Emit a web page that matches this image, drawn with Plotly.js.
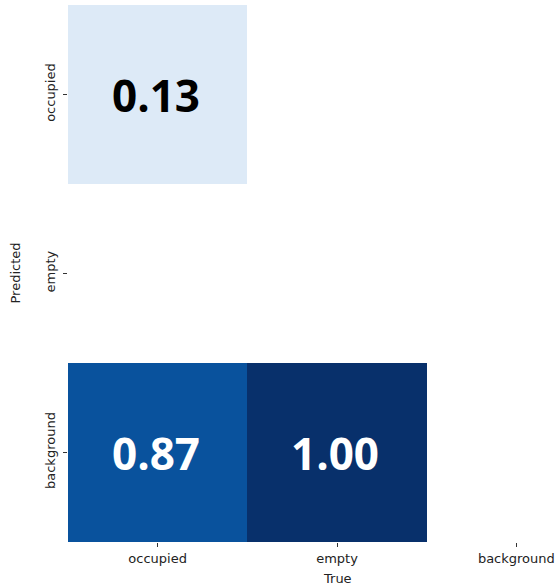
<!DOCTYPE html>
<html><head><meta charset="utf-8">
<script src="https://cdn.plot.ly/plotly-3.0.1.min.js"></script>
<style>html,body{margin:0;padding:0;overflow:hidden;width:556px;height:587px;background:#fff}</style>
</head><body><div id="chart" style="width:620px;height:587px"></div>
<script>
const trueLabels = ["occupied", "empty", "background"];
const predLabels = ["occupied", "empty", "background"];
// rows = predicted, cols = true; null = blank cell
const values = [
  [0.13, null, null],
  [null, null, null],
  [0.87, 1.00, null]
];
const xTitle = "True";
const yTitle = "Predicted";
const blues = [
  [0.0, "#f7fbff"], [0.125, "#deebf7"], [0.25, "#c6dbef"], [0.375, "#9ecae1"],
  [0.5, "#6baed6"], [0.625, "#4292c6"], [0.75, "#2171b5"], [0.875, "#08519c"], [1.0, "#08306b"]
];
const axisFont = {family: "DejaVu Sans", size: 13, color: "#222"};
const annotations = [];
values.forEach((row, i) => row.forEach((v, j) => {
  if (v === null) return;
  annotations.push({
    x: trueLabels[j], y: predLabels[i], xref: "x", yref: "y",
    text: v.toFixed(2), showarrow: false, xshift: -2,
    font: {family: "Open Sans", size: 44, weight: 700, color: v > 0.5 ? "#ffffff" : "#000000"}
  });
}));
annotations.push({text: xTitle, xref: "paper", yref: "paper", x: 0.5, y: 0,
  xanchor: "center", yanchor: "middle", yshift: -36, showarrow: false, font: axisFont});
annotations.push({text: yTitle, xref: "paper", yref: "paper", x: 0, y: 0.5,
  xanchor: "center", yanchor: "middle", xshift: -53, textangle: -90, showarrow: false, font: axisFont});
const trace = {
  type: "heatmap", x: trueLabels, y: predLabels, z: values,
  colorscale: blues, zmin: 0, zmax: 1, showscale: false,
  xgap: 0, ygap: 0, hoverongaps: false
};
const layout = {
  width: 620, height: 587,
  margin: {l: 68, r: 14, t: 5, b: 45},
  paper_bgcolor: "#fff", plot_bgcolor: "#fff",
  font: axisFont,
  xaxis: {type: "category", showgrid: false, zeroline: false, showline: false,
    ticks: "outside", ticklen: 4, tickcolor: "#333", tickfont: axisFont},
  yaxis: {type: "category", autorange: "reversed", showgrid: false, zeroline: false, showline: false,
    ticks: "outside", ticklen: 4, tickcolor: "#333", tickangle: -90, tickfont: axisFont,
    ticklabelstandoff: 3},
  annotations: annotations
};
Plotly.newPlot("chart", [trace], layout, {staticPlot: true, displayModeBar: false});
</script></body></html>
